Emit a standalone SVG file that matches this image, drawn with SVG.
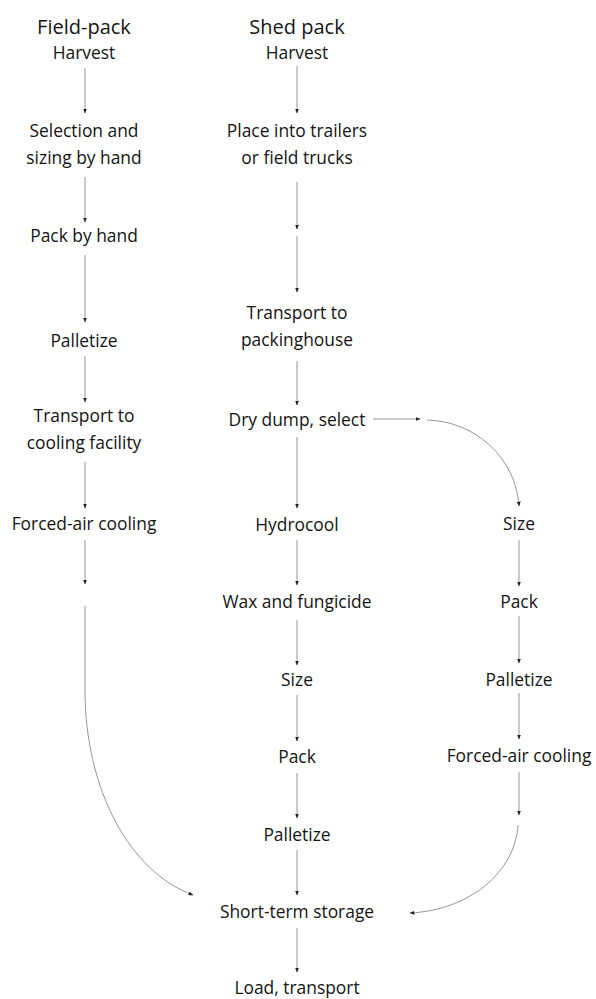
<svg xmlns="http://www.w3.org/2000/svg" width="596" height="999" viewBox="0 0 596 999">
<style>
text{font-family:"Open Sans","Noto Sans",sans-serif;font-size:17.4px;fill:#141414;text-anchor:middle}
text.h{font-size:20px}
.c path,.c line{stroke:#8a8a8a;stroke-width:0.9;fill:none;marker-end:url(#ah)}
</style>
<defs>
<marker id="ah" markerUnits="userSpaceOnUse" markerWidth="5" markerHeight="4" refX="4.5" refY="2" orient="auto">
<path d="M0,0 L5,2 L0,4 z" fill="#222"/>
</marker>
</defs>
<rect width="596" height="999" fill="#fff"/>
<g id="col1">
<g id="fp-title"><text class="h" x="84" y="34">Field-pack</text></g>
<g id="fp-harvest"><text x="84" y="59">Harvest</text></g>
<g id="fp-select"><text x="84" y="137">Selection and</text><text x="84" y="164">sizing by hand</text></g>
<g id="fp-pack"><text x="84" y="242">Pack by hand</text></g>
<g id="fp-palletize"><text x="84" y="347">Palletize</text></g>
<g id="fp-transport"><text x="84" y="422">Transport to</text><text x="84" y="449">cooling facility</text></g>
<g id="fp-cool"><text x="84" y="530">Forced-air cooling</text></g>
</g>
<g id="col2">
<g id="sp-title"><text class="h" x="297" y="34">Shed pack</text></g>
<g id="sp-harvest"><text x="297" y="59">Harvest</text></g>
<g id="sp-place"><text x="297" y="137">Place into trailers</text><text x="297" y="164">or field trucks</text></g>
<g id="sp-transport"><text x="297" y="319">Transport to</text><text x="297" y="346">packinghouse</text></g>
<g id="sp-dump"><text x="297" y="426">Dry dump, select</text></g>
<g id="sp-hydro"><text x="297" y="531">Hydrocool</text></g>
<g id="sp-wax"><text x="297" y="608">Wax and fungicide</text></g>
<g id="sp-size"><text x="297" y="686">Size</text></g>
<g id="sp-pack"><text x="297" y="763">Pack</text></g>
<g id="sp-pal"><text x="297" y="841">Palletize</text></g>
<g id="storage"><text x="297" y="918">Short-term storage</text></g>
<g id="load"><text x="297" y="994">Load, transport</text></g>
</g>
<g id="col3">
<g id="r-size"><text x="519" y="530">Size</text></g>
<g id="r-pack"><text x="519" y="608">Pack</text></g>
<g id="r-pal"><text x="519" y="686">Palletize</text></g>
<g id="r-cool"><text x="519" y="762">Forced-air cooling</text></g>
</g>
<g id="connectors" class="c">
<line x1="85" y1="68" x2="85" y2="113"/>
<line x1="85" y1="177" x2="85" y2="222"/>
<line x1="85" y1="255" x2="85" y2="322"/>
<line x1="85" y1="356" x2="85" y2="402"/>
<line x1="85" y1="462" x2="85" y2="508"/>
<line x1="85" y1="540" x2="85" y2="584"/>
<path d="M85,606 L85,690 C85,790 130,872 193,895"/>
<line x1="297" y1="66" x2="297" y2="113"/>
<line x1="297" y1="182" x2="297" y2="229"/>
<line x1="297" y1="236" x2="297" y2="292"/>
<line x1="297" y1="361" x2="297" y2="405"/>
<line x1="297" y1="437" x2="297" y2="508"/>
<line x1="297" y1="540" x2="297" y2="585"/>
<line x1="297" y1="620" x2="297" y2="665"/>
<line x1="297" y1="695" x2="297" y2="741"/>
<line x1="297" y1="773" x2="297" y2="818"/>
<line x1="297" y1="850" x2="297" y2="895"/>
<line x1="297" y1="928" x2="297" y2="972"/>
<line x1="373" y1="419" x2="420" y2="419"/>
<path d="M427,420 C475,421 516,458 519,506"/>
<line x1="519" y1="540" x2="519" y2="586"/>
<line x1="519" y1="616" x2="519" y2="663"/>
<line x1="519" y1="693" x2="519" y2="739"/>
<line x1="519" y1="772" x2="519" y2="815"/>
<path d="M518,825 C515,872 470,910 410,913"/>
</g>
</svg>
